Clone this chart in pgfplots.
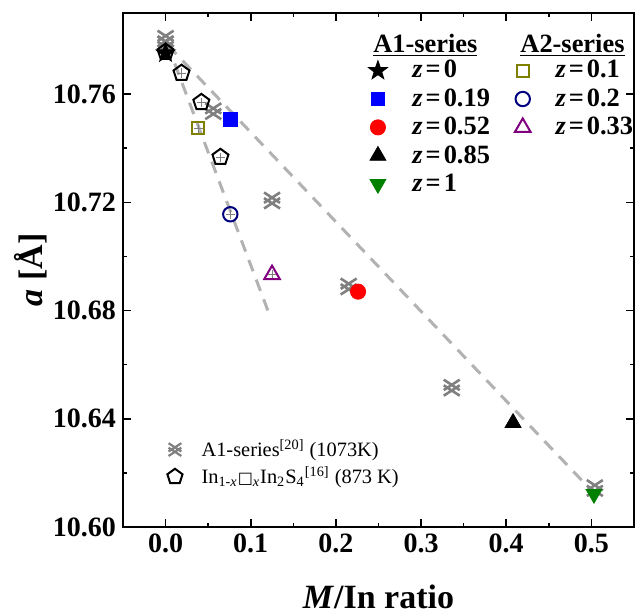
\documentclass[border=0pt]{standalone}
\usepackage{fontspec}
\setmainfont{Liberation Serif}
\newfontfamily\dejavu{DejaVu Sans}
\usepackage{pgfplots}
\pgfplotsset{compat=1.18}
\usetikzlibrary{plotmarks}

\definecolor{crossgray}{RGB}{128,128,128}
\definecolor{dashgray}{RGB}{178,178,178}
\definecolor{zgreen}{RGB}{0,128,0}
\definecolor{zolive}{RGB}{128,128,0}
\definecolor{znavy}{RGB}{0,0,128}
\definecolor{zpurple}{RGB}{128,0,128}

% two crosses stacked on each other
\pgfdeclareplotmark{dblx}{%
  \pgfpathmoveto{\pgfqpoint{-\pgfplotmarksize}{\pgfplotmarksize}}%
  \pgfpathlineto{\pgfpoint{\pgfplotmarksize}{-0.3\pgfplotmarksize}}%
  \pgfpathmoveto{\pgfpoint{-\pgfplotmarksize}{-0.3\pgfplotmarksize}}%
  \pgfpathlineto{\pgfqpoint{\pgfplotmarksize}{\pgfplotmarksize}}%
  \pgfpathmoveto{\pgfqpoint{-\pgfplotmarksize}{-\pgfplotmarksize}}%
  \pgfpathlineto{\pgfpoint{\pgfplotmarksize}{0.3\pgfplotmarksize}}%
  \pgfpathmoveto{\pgfpoint{-\pgfplotmarksize}{0.3\pgfplotmarksize}}%
  \pgfpathlineto{\pgfqpoint{\pgfplotmarksize}{-\pgfplotmarksize}}%
  \pgfusepathqstroke}
% filled five-point star
\pgfdeclareplotmark{fstar}{%
  \pgfpathmoveto{\pgfpointpolar{90}{\pgfplotmarksize}}%
  \pgfpathlineto{\pgfpointpolar{126}{0.4\pgfplotmarksize}}%
  \pgfpathlineto{\pgfpointpolar{162}{\pgfplotmarksize}}%
  \pgfpathlineto{\pgfpointpolar{198}{0.4\pgfplotmarksize}}%
  \pgfpathlineto{\pgfpointpolar{234}{\pgfplotmarksize}}%
  \pgfpathlineto{\pgfpointpolar{270}{0.4\pgfplotmarksize}}%
  \pgfpathlineto{\pgfpointpolar{306}{\pgfplotmarksize}}%
  \pgfpathlineto{\pgfpointpolar{342}{0.4\pgfplotmarksize}}%
  \pgfpathlineto{\pgfpointpolar{18}{\pgfplotmarksize}}%
  \pgfpathlineto{\pgfpointpolar{54}{0.4\pgfplotmarksize}}%
  \pgfpathclose
  \pgfusepathqfillstroke}

\pgfplotsset{
  pluserr/.style={error bars/.cd, x dir=both, x fixed=0.005, y dir=both, y fixed=0.0017,
    error mark=none, error bar style={crossgray, line width=0.4pt}},
}
\newcommand{\zz}[1]{\textit{z}\kern1.5pt=\kern1.5pt#1}

\begin{document}
\begin{tikzpicture}
\path (-61.5pt,-41.5pt) rectangle (256.5pt,263.5pt);
\begin{axis}[
  at={(0,0)}, anchor=south west,
  scale only axis, width=255.5pt, height=257pt,
  xmin=-0.05, xmax=0.55, ymin=10.60, ymax=10.79,
  xtick={0,0.1,0.2,0.3,0.4,0.5},
  ytick={10.60,10.64,10.68,10.72,10.76},
  minor x tick num=1, minor y tick num=1,
  tick align=inside,
  major tick length=4pt, minor tick length=2.2pt,
  every tick/.style={black, line width=0.8pt},
  axis line style={line width=1pt},
  xticklabel style={/pgf/number format/.cd, fixed, fixed zerofill, precision=1},
  yticklabel style={/pgf/number format/.cd, fixed, fixed zerofill, precision=2},
  /pgf/number format/assume math mode=true,
  ticklabel style={font=\fontsize{14}{14}\selectfont\bfseries},
  xlabel={\textbf{\textit{M}/In ratio}},
  ylabel={\textbf{\textit{a} [Å]}},
  label style={font=\fontsize{17}{17}\selectfont},
  xlabel style={at={(axis description cs:0.5,-0.135)}, anchor=center},
  ylabel style={at={(axis description cs:-0.18,0.5)}, anchor=center},
  legend columns=2,
  legend cell align=left,
  legend image code/.code={\draw plot coordinates {(0pt,0pt)};},
  legend style={at={(0.4795,0.9086)}, anchor=north west, draw=none, fill=none, overlay,
    inner sep=0pt, nodes={inner ysep=0pt, inner xsep=12.5pt}, column sep=0pt, row sep=3.9pt,
    font=\fontsize{13.2}{15}\selectfont\bfseries},
]
% guide lines
\addplot[dashgray, line width=1.5pt, dash pattern=on 6pt off 4.5pt, forget plot]
  coordinates {(0.003,10.778) (0.497,10.6145)};
\addplot[dashgray, line width=1.5pt, dash pattern=on 6pt off 4.5pt, forget plot]
  coordinates {(0.002,10.7786) (0.1206,10.6796)};
% A1-series reference (1073 K)
\addplot[only marks, mark=dblx, mark size=4pt, crossgray, line width=1.3pt, forget plot]
  coordinates {(0,10.7805) (0,10.7785) (0.056,10.7537) (0.125,10.7207)
               (0.215,10.6889) (0.336,10.6515) (0.504,10.6144)};
% In1-x[]xIn2S4 (873 K)
\addplot[only marks, mark=pentagon, mark size=4.2pt, black, line width=1pt, forget plot,
  pluserr] coordinates {(0,10.7756) (0.0187,10.7678) (0.042,10.757) (0.0644,10.7367)};

\addplot[only marks, mark=fstar, mark size=5pt, black, pluserr]
  coordinates {(0,10.7752)};
\addlegendentry{\zz{0}}
\addplot[only marks, mark=square, mark size=3pt, zolive, line width=1pt, pluserr]
  coordinates {(0.0386,10.7474)};
\addlegendentry{\zz{0.1}}
\addplot[only marks, mark=square*, mark size=3.3pt, blue, pluserr]
  coordinates {(0.076,10.7507)};
\addlegendentry{\zz{0.19}}
\addplot[only marks, mark=o, mark size=3.6pt, znavy, line width=1pt, pluserr]
  coordinates {(0.076,10.7156)};
\addlegendentry{\zz{0.2}}
\addplot[only marks, mark=*, mark size=3.8pt, red, pluserr]
  coordinates {(0.226,10.687)};
\addlegendentry{\zz{0.52}}
\addplot[only marks, mark=triangle, mark size=4.5pt, zpurple, line width=1pt, pluserr]
  coordinates {(0.125,10.6933)};
\addlegendentry{\zz{0.33}}
\addplot[only marks, mark=triangle*, mark size=4.6pt, black, pluserr]
  coordinates {(0.408,10.6385)};
\addlegendentry{\zz{0.85}}
\addlegendimage{empty legend}\addlegendentry{}
\addplot[only marks, mark=triangle*, mark options={rotate=180}, mark size=4.6pt, zgreen, pluserr]
  coordinates {(0.503,10.6122)};
\addlegendentry{\zz{1}}
\addlegendimage{empty legend}\addlegendentry{}

% legend headings
\node[anchor=base west, inner sep=0pt, font=\fontsize{13.2}{15}\selectfont\bfseries]
  at (rel axis cs:0.489,0.924) {\underline{A1-series}};
\node[anchor=base west, inner sep=0pt, font=\fontsize{13.2}{15}\selectfont\bfseries]
  at (rel axis cs:0.777,0.924) {\underline{A2-series}};
\end{axis}

\begin{axis}[
  at={(0,0)}, anchor=south west,
  scale only axis, width=255.5pt, height=257pt,
  hide axis, xmin=0, xmax=1, ymin=0, ymax=1,
  legend cell align=left,
  legend image code/.code={\draw plot coordinates {(0pt,0pt)};},
  legend style={at={(0.086,0.171)}, anchor=north west, draw=none, fill=none, overlay,
    inner sep=0pt, nodes={inner ysep=0pt, inner xsep=9.5pt}, column sep=0pt, row sep=3.5pt,
    font=\fontsize{10.2}{12}\selectfont},
]
\addlegendimage{only marks, mark=dblx, mark size=3.2pt, crossgray, line width=1.1pt}
\addlegendentry{A1-series\textsuperscript{[20]} (1073K)}
\addlegendimage{only marks, mark=pentagon, mark size=4pt, black, line width=1pt}
\addlegendentry{In\textsubscript{1-\textit{x}}{\dejavu\fontsize{8}{8}\selectfont □}\textsubscript{\textit{x}}In\textsubscript{2}S\textsubscript{4}\textsuperscript{[16]} (873 K)}
\end{axis}
\end{tikzpicture}
\end{document}
